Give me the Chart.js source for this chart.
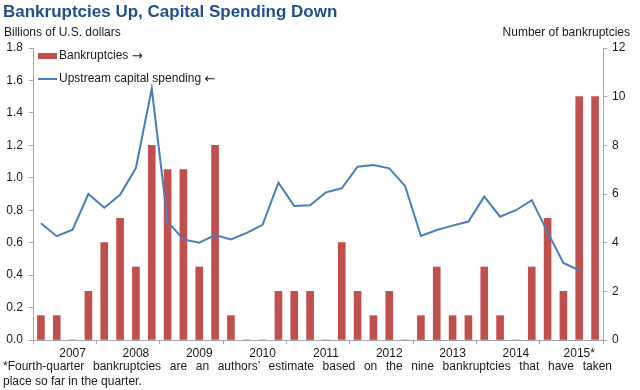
<!DOCTYPE html>
<html lang="en">

<head>
    <meta charset="UTF-8">
    <title>Bankruptcies Up, Capital Spending Down</title>
    <script src="https://cdn.jsdelivr.net/npm/chart.js@4.4.0/dist/chart.umd.min.js"></script>
</head>
<style>
    body {
        margin: 0;
        background: #ffffff;
        font-family: "Liberation Sans", Arial, sans-serif;
        color: #1a1a1a;
    }

    #wrap {
        position: relative;
        width: 640px;
        height: 390px;
        overflow: hidden;
    }

    #chartbox {
        position: absolute;
        left: 0;
        top: 0;
        width: 640px;
        height: 390px;
    }

    .t {
        position: absolute;
        white-space: nowrap;
        font-size: 12px;
    }

    #titre {
        left: 3px;
        top: 2px;
        font-size: 17px;
        font-weight: bold;
        color: #1f4f8f;
    }

    #note {
        position: absolute;
        left: 3px;
        top: 359px;
        width: 609px;
        font-size: 12px;
        line-height: 15px;
    }

    #note .l1 {
        text-align: justify;
        text-align-last: justify;
    }
</style>

<body>
    <div id="wrap">
        <div id="chartbox"><canvas id="mychart" width="640" height="390"></canvas></div>
        <div id="titre" class="t">Bankruptcies Up, Capital Spending Down</div>
        <div class="t" style="left:4px; top:25px;">Billions of U.S. dollars</div>
        <div class="t" style="right:10px; top:25px;">Number of bankruptcies</div>
        <div id="note">
            <div class="l1">*Fourth-quarter bankruptcies are an authors’ estimate based on the nine bankruptcies that have taken</div>
            <div>place so far in the quarter.</div>
        </div>
    </div>

    <script>
        // quarters 2007Q1 .. 2015Q4
        const years = ["2007", "2008", "2009", "2010", "2011", "2012", "2013", "2014", "2015"]
        const yearLabels = ["2007", "2008", "2009", "2010", "2011", "2012", "2013", "2014", "2015*"]
        const quarters = []
        for (let i = 0; i < years.length; i++) {
            for (let q = 1; q <= 4; q++) {
                quarters.push(years[i] + " Q" + q)
            }
        }

        // number of bankruptcies (right axis)
        const bankruptcies = [1, 1, 0, 2, 4, 5, 3, 8, 7, 7, 3, 8,
            1, 0, 0, 2, 2, 2, 0, 4, 2, 1, 2, 0,
            1, 3, 1, 1, 3, 1, 0, 3, 5, 2, 10, 10]

        // upstream capital spending, billions of U.S. dollars (left axis)
        const capex = [0.72, 0.64, 0.68, 0.90, 0.815, 0.895, 1.06, 1.55, 0.73, 0.62, 0.60, 0.647,
            0.62, 0.66, 0.71, 0.97, 0.826, 0.83, 0.91, 0.935, 1.068, 1.079, 1.058, 0.95,
            0.641, 0.678, 0.705, 0.73, 0.884, 0.76, 0.80, 0.862, 0.665, 0.475, 0.43, null]

        const legendNames = ["Upstream capital spending", "Bankruptcies"]
        const legendArrows = ["←", "→"]

        const gris = "#a6a6a6"
        const police = { family: "'Liberation Sans', Arial, sans-serif", size: 12 }

        // legend drawn inside the plot, top left
        function legendText(c, txt, arrow, x, y) {
            c.font = "12px 'Liberation Sans', Arial, sans-serif"
            c.fillStyle = "#1a1a1a"
            c.fillText(txt, x, y)
            const w = c.measureText(txt + " ").width
            c.font = "13px 'DejaVu Sans', sans-serif"
            c.fillText(arrow, x + w, y + 1)
        }

        const legende = {
            id: "legende",
            afterDraw(chart) {
                const c = chart.ctx
                const ds = chart.data.datasets
                c.save()
                c.textBaseline = "middle"
                // bars
                c.fillStyle = ds[1].backgroundColor
                c.fillRect(38, 53, 19, 6)
                legendText(c, legendNames[1], legendArrows[1], 59, 56)
                // line
                c.strokeStyle = ds[0].borderColor
                c.lineWidth = 2
                c.beginPath()
                c.moveTo(38, 79)
                c.lineTo(57, 79)
                c.stroke()
                legendText(c, legendNames[0], legendArrows[0], 59, 79)
                c.restore()
            }
        }

        const ctx = document.getElementById("mychart")
        const myChart = new Chart(ctx, {
            type: "bar",
            data: {
                labels: quarters,
                datasets: [{
                    type: "line",
                    label: legendNames[0],
                    data: capex,
                    yAxisID: "y",
                    borderColor: "#4a7ebb",
                    borderWidth: 2,
                    pointRadius: 0,
                    tension: 0,
                    order: 0
                }, {
                    type: "bar",
                    label: legendNames[1],
                    data: bankruptcies,
                    yAxisID: "y1",
                    backgroundColor: "#c0504d",
                    barThickness: 7,
                    order: 1
                }]
            },
            options: {
                responsive: false,
                animation: false,
                layout: { padding: { top: 48, left: 0, right: 0, bottom: 0 } },
                plugins: {
                    legend: { display: false },
                    tooltip: { enabled: false }
                },
                scales: {
                    x: {
                        offset: true,
                        afterFit: function (s) { s.height = 50 },
                        border: { display: true, color: gris, width: 1 },
                        grid: {
                            offset: true,
                            drawOnChartArea: false,
                            drawTicks: true,
                            tickLength: 4,
                            color: function (c) {
                                if (c.type !== "tick") return gris
                                return c.index % 4 === 0 ? gris : "rgba(0,0,0,0)"
                            }
                        },
                        ticks: {
                            autoSkip: false,
                            maxRotation: 0,
                            padding: 2,
                            color: "#1a1a1a",
                            font: police,
                            callback: function (v, i) {
                                return i % 4 === 2 ? yearLabels[Math.floor(i / 4)] : ""
                            }
                        }
                    },
                    y: {
                        position: "left",
                        min: 0,
                        max: 1.8,
                        afterFit: function (s) { s.width = 33 },
                        border: { display: true, color: gris, width: 1 },
                        grid: { drawOnChartArea: false, tickLength: 4, color: gris },
                        ticks: {
                            stepSize: 0.2,
                            padding: 6,
                            color: "#1a1a1a",
                            font: police,
                            callback: function (v) { return v.toFixed(1) }
                        }
                    },
                    y1: {
                        position: "right",
                        min: 0,
                        max: 12,
                        afterFit: function (s) { s.width = 37 },
                        border: { display: true, color: gris, width: 1 },
                        grid: { drawOnChartArea: false, tickLength: 4, color: gris },
                        ticks: {
                            stepSize: 2,
                            padding: 5,
                            color: "#1a1a1a",
                            font: police
                        }
                    }
                }
            },
            plugins: [legende]
        });
    </script>
</body>

</html>
